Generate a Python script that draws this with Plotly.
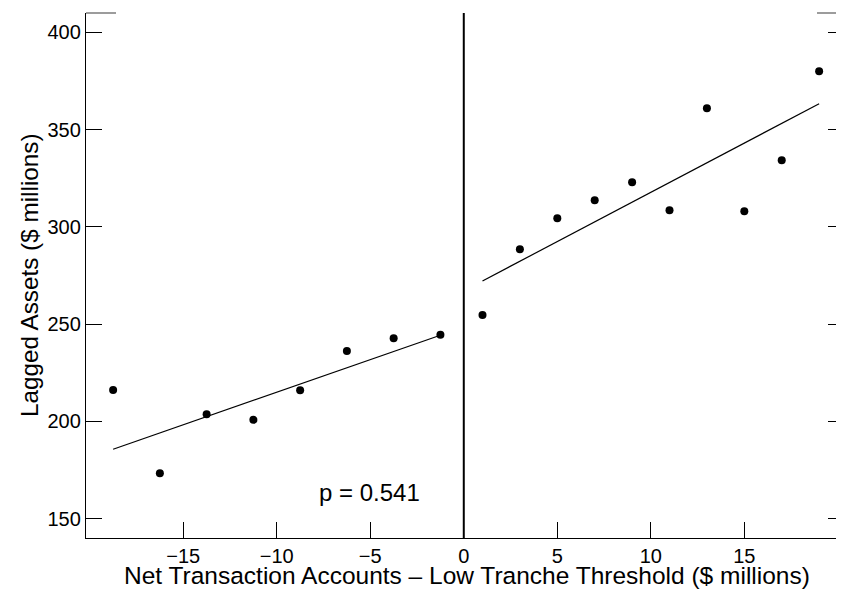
import plotly.graph_objects as go

# ---- data ----
left_x = [-18.75, -16.25, -13.75, -11.25, -8.75, -6.25, -3.75, -1.25]
left_y = [216.2, 173.4, 203.7, 200.8, 216.0, 236.2, 242.8, 244.5]
right_x = [1, 3, 5, 7, 9, 11, 13, 15, 17, 19]
right_y = [254.7, 288.5, 304.4, 313.7, 322.9, 308.5, 360.9, 308.0, 334.2, 380.0]

fit_left_x = [-18.75, -1.1]
fit_left_y = [185.7, 244.8]
fit_right_x = [1.0, 19.0]
fit_right_y = [272.2, 363.3]

x_ticks = [-15, -10, -5, 0, 5, 10, 15]
x_tick_labels = ["\u221215", "\u221210", "\u22125", "0", "5", "10", "15"]
y_ticks = [150, 200, 250, 300, 350, 400]
y_tick_labels = ["150", "200", "250", "300", "350", "400"]

x_title = "Net Transaction Accounts \u2013 Low Tranche Threshold ($ millions)"
y_title = "Lagged Assets ($ millions)"
p_text = "p = 0.541"
p_pos = (-5.06, 163.3)

x_range = [-20.2, 20.33]
y_range = [140.08, 409.92]

FONT = "Liberation Sans, Arial, Helvetica, sans-serif"

fig = go.Figure()
fig.add_trace(go.Scatter(x=left_x + right_x, y=left_y + right_y, mode="markers",
                         marker=dict(color="black", size=8), showlegend=False))
fig.add_trace(go.Scatter(x=fit_left_x, y=fit_left_y, mode="lines",
                         line=dict(color="black", width=1.2), showlegend=False))
fig.add_trace(go.Scatter(x=fit_right_x, y=fit_right_y, mode="lines",
                         line=dict(color="black", width=1.2), showlegend=False))
# invisible trace to activate the right-side tick axis
fig.add_trace(go.Scatter(x=[0], y=[300], yaxis="y2", mode="markers",
                         marker=dict(opacity=0), showlegend=False, hoverinfo="skip"))

fig.add_shape(type="line", xref="x", yref="paper", x0=0, x1=0, y0=0, y1=1,
              line=dict(color="black", width=2))
# partial top frame segments
fig.add_shape(type="line", xref="paper", yref="paper", x0=0, x1=0.0396, y0=1, y1=1,
              line=dict(color="#666666", width=1.3))
fig.add_shape(type="line", xref="paper", yref="paper", x0=0.9644, x1=1, y0=1, y1=1,
              line=dict(color="#666666", width=1.3))

fig.add_annotation(x=p_pos[0], y=p_pos[1], text=p_text, showarrow=False,
                   font=dict(size=24, color="black", family=FONT))
fig.add_annotation(x=0.502, y=-0.0712, xref="paper", yref="paper", text=x_title,
                   showarrow=False, xanchor="center", yanchor="middle",
                   font=dict(size=24.5, color="black", family=FONT))
fig.add_annotation(x=-0.0745, y=0.5, xref="paper", yref="paper", text=y_title,
                   showarrow=False, xanchor="center", yanchor="middle", textangle=-90,
                   font=dict(size=24.3, color="black", family=FONT))

# page has an 8px body margin, so the figure is offset by (8, 8)
fig.update_layout(
    width=836, height=587,
    margin=dict(l=78, r=0, t=5, b=57, autoexpand=False),
    paper_bgcolor="white", plot_bgcolor="white",
    font=dict(family=FONT, color="black"),
    xaxis=dict(range=x_range, tickvals=x_ticks, ticktext=x_tick_labels,
               ticks="inside", ticklen=16, tickwidth=1, tickcolor="black",
               showline=True, linecolor="black", linewidth=1.3,
               showgrid=False, zeroline=False, automargin=False,
               tickfont=dict(size=20, family=FONT)),
    yaxis=dict(range=y_range, tickvals=y_ticks, ticktext=y_tick_labels,
               ticks="inside", ticklen=16, tickwidth=1, tickcolor="black",
               showline=True, linecolor="black", linewidth=1.3,
               showgrid=False, zeroline=False, automargin=False,
               tickfont=dict(size=20, family=FONT)),
    yaxis2=dict(range=y_range, tickvals=y_ticks, overlaying="y", side="right",
                ticks="inside", ticklen=16, tickwidth=1, tickcolor="black",
                showticklabels=False, showline=False, showgrid=False, zeroline=False),
)

fig.write_html("out.html")
